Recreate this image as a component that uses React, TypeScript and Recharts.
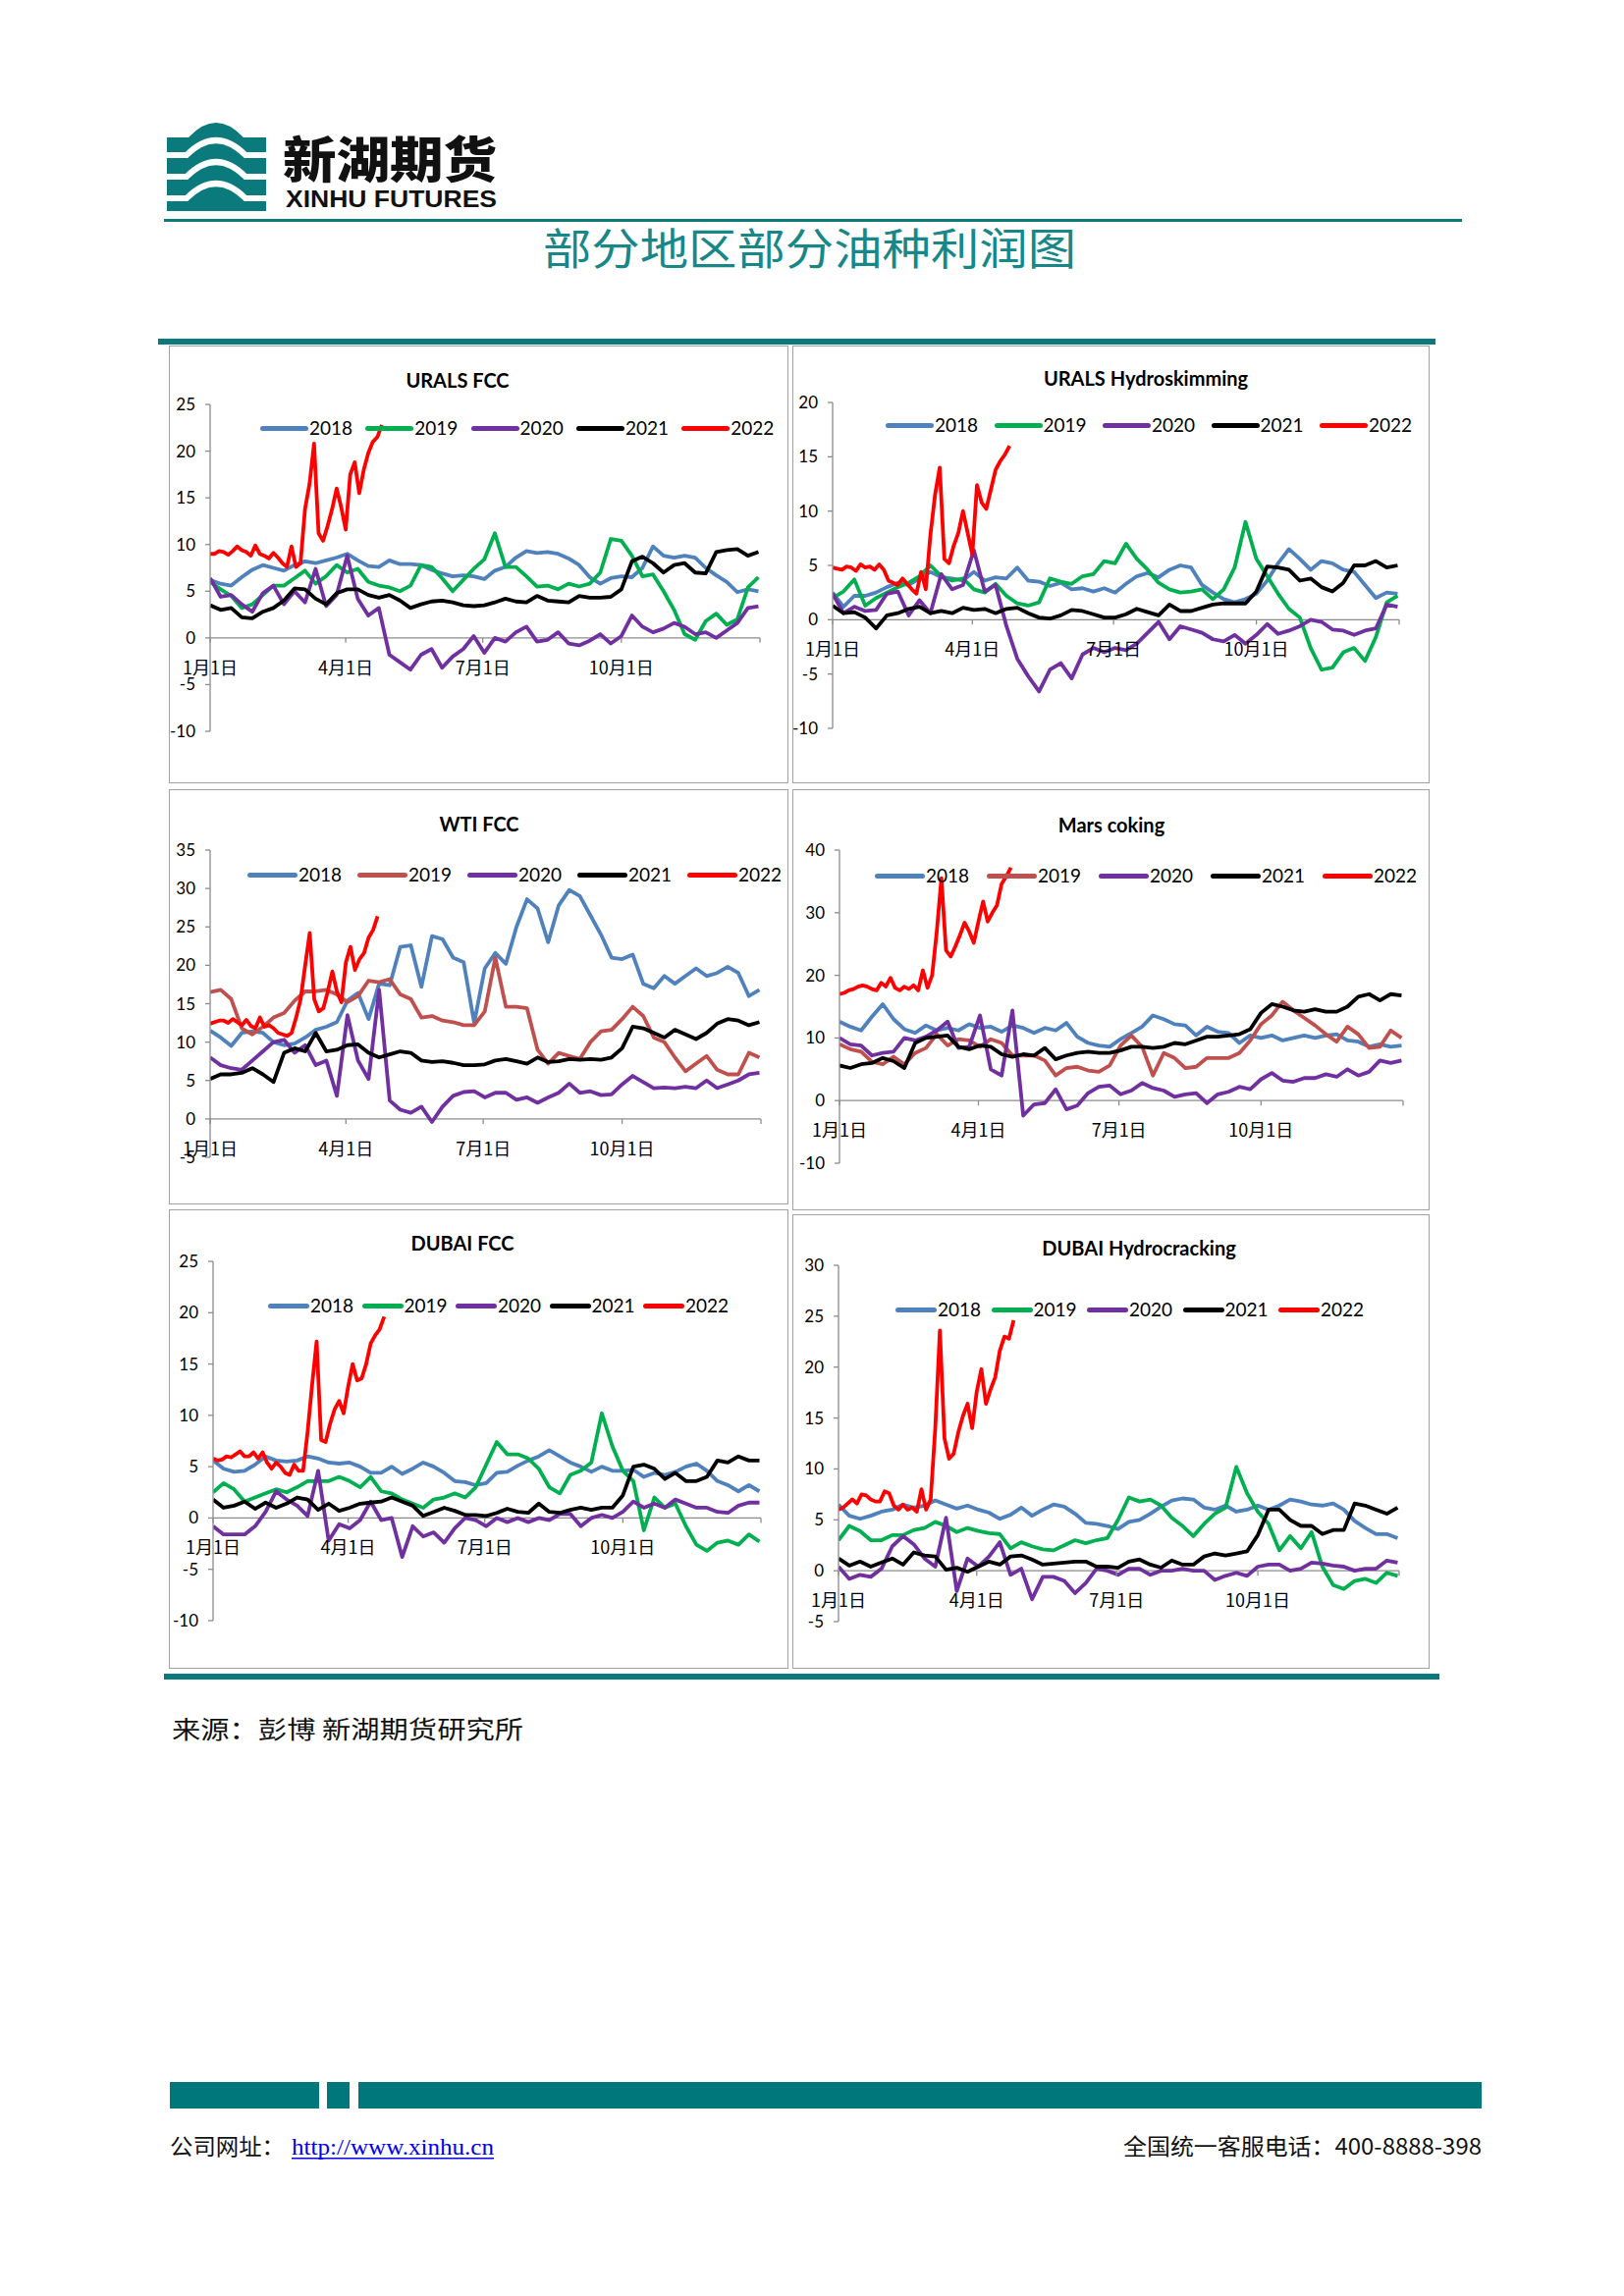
import { LineChart, Line, XAxis, YAxis, ReferenceLine } from 'recharts';

const TEAL = '#0b7a7c';
const AXIS = '#8c8c8c';
const NUM_FONT = "'Liberation Sans Narrow', 'Arial Narrow', Lato, sans-serif";
const TITLE_FONT = "Lato, 'Noto Sans', sans-serif";
const CJK = "'Noto Sans CJK SC', sans-serif";

const YEARS = ['2018', '2019', '2020', '2021', '2022'];
const COLORS_GREEN = ['#4f81bd', '#00b050', '#7030a0', '#000000', '#ff0000'];
const COLORS_BROWN = ['#4f81bd', '#c0504d', '#7030a0', '#000000', '#ff0000'];

// x axis: day of year
const DATE_TICKS = [0, 90, 181, 273, 365];
const DATE_LABELS = ['1月1日', '4月1日', '7月1日', '10月1日', ''];
const WEEK = 7; // full-year series are read weekly
const STEP_2022 = 3; // 2022 is read every 3 days

const TICKS_25 = [-10, -5, 0, 5, 10, 15, 20, 25];
const TICKS_20 = [-10, -5, 0, 5, 10, 15, 20];
const TICKS_35 = [-5, 0, 5, 10, 15, 20, 25, 30, 35];
const TICKS_40 = [-10, 0, 10, 20, 30, 40];
const TICKS_30 = [-5, 0, 5, 10, 15, 20, 25, 30];

// URALS FCC
const uralsFcc2018 = [6.2, 5.8, 5.6, 6.5, 7.3, 7.8, 7.5, 7.2, 7.8, 8.2, 8.0, 8.3, 8.6, 9.0, 8.3, 7.7, 7.6, 8.3, 7.9, 7.9, 7.8, 7.3, 6.9, 6.6, 6.7, 6.6, 6.3, 7.2, 7.6, 8.6, 9.3, 9.1, 9.2, 9.0, 8.5, 7.8, 6.5, 5.8, 6.4, 6.6, 6.5, 7.5, 9.8, 8.8, 8.6, 8.8, 8.6, 7.5, 6.7, 6.0, 4.9, 5.2, 5.0];
const uralsFcc2019 = [6.0, 5.2, 4.5, 3.2, 3.6, 4.6, 5.6, 5.6, 6.4, 7.2, 5.8, 6.6, 7.8, 7.0, 7.4, 6.0, 5.6, 5.4, 5.0, 5.6, 7.8, 7.6, 6.4, 5.0, 6.2, 7.4, 8.4, 11.2, 7.6, 7.6, 6.6, 5.5, 5.6, 5.2, 5.8, 5.5, 5.8, 7.0, 10.6, 10.4, 8.8, 6.6, 6.8, 5.0, 3.0, 0.4, -0.2, 1.8, 2.6, 1.4, 2.0, 5.4, 6.5];
const uralsFcc2020 = [6.4, 4.4, 4.6, 3.6, 2.8, 4.8, 5.6, 3.6, 5.0, 3.8, 7.4, 3.4, 4.6, 8.8, 4.2, 2.4, 3.2, -1.8, -2.6, -3.4, -1.8, -1.2, -3.2, -2.0, -1.2, 0.2, -1.6, 0.0, -0.4, 0.6, 1.2, -0.4, -0.2, 0.6, -0.6, -0.8, -0.3, 0.4, -0.6, 0.2, 2.4, 1.2, 0.6, 1.0, 1.6, 1.2, 0.4, 0.6, 0.0, 0.8, 1.6, 3.2, 3.4];
const uralsFcc2021 = [3.5, 3.0, 3.2, 2.2, 2.1, 2.8, 3.2, 4.0, 5.3, 5.2, 4.2, 3.6, 4.8, 5.2, 5.2, 4.6, 4.3, 4.6, 4.0, 3.2, 3.6, 3.9, 4.0, 3.8, 3.5, 3.4, 3.5, 3.8, 4.2, 3.9, 3.8, 4.5, 4.0, 3.9, 3.8, 4.5, 4.3, 4.3, 4.4, 5.2, 8.2, 8.7, 8.0, 7.0, 7.8, 8.0, 7.0, 6.9, 9.2, 9.4, 9.5, 8.8, 9.2];
const uralsFcc2022 = [9.0, 9.0, 9.3, 9.2, 8.9, 9.3, 9.8, 9.4, 9.2, 8.8, 9.9, 9.0, 8.8, 8.5, 9.1, 8.6, 8.0, 7.6, 9.8, 7.6, 8.0, 13.8, 16.5, 20.8, 11.2, 10.4, 12.0, 13.8, 16.0, 14.0, 11.6, 17.5, 18.8, 15.5, 18.0, 19.8, 21.0, 21.5, 22.8];

// URALS Hydroskimming
const uralsHs2018 = [2.5, 1.2, 2.2, 2.2, 2.5, 3.0, 3.4, 3.2, 3.8, 4.4, 3.9, 3.8, 3.6, 4.4, 3.6, 3.9, 3.8, 4.8, 3.6, 3.5, 3.1, 3.4, 2.8, 2.9, 2.6, 2.9, 2.5, 3.3, 4.0, 4.3, 3.9, 4.6, 5.0, 4.8, 3.2, 2.5, 1.9, 1.6, 1.9, 2.4, 3.6, 5.2, 6.5, 5.6, 4.6, 5.4, 5.2, 4.6, 4.4, 3.2, 2.0, 2.5, 2.4];
const uralsHs2019 = [2.0, 2.6, 3.7, 1.3, 2.0, 2.5, 3.0, 3.4, 4.0, 5.0, 4.0, 3.6, 3.8, 2.8, 2.5, 3.3, 2.2, 1.5, 1.3, 1.6, 3.8, 3.5, 3.3, 4.0, 4.2, 5.4, 5.2, 7.0, 5.6, 4.6, 3.4, 2.8, 2.5, 2.6, 2.8, 1.9, 2.8, 4.8, 9.0, 5.6, 4.0, 2.4, 1.0, 0.2, -2.6, -4.6, -4.4, -3.0, -2.6, -3.8, -1.6, 1.6, 2.2];
const uralsHs2020 = [2.4, 0.6, 1.2, 0.8, 0.9, 2.4, 2.6, 0.4, 1.8, 0.6, 4.2, 2.8, 3.2, 6.4, 2.6, 3.2, -0.6, -3.6, -5.2, -6.6, -4.6, -4.0, -5.4, -3.2, -2.6, -3.0, -2.6, -2.8, -2.2, -1.2, -0.2, -1.8, -0.6, -0.9, -1.2, -1.8, -2.0, -1.4, -2.2, -1.4, -0.4, -1.3, -1.0, -0.6, 0.0, -0.2, -0.9, -1.0, -1.4, -1.0, -0.8, 1.4, 1.2];
const uralsHs2021 = [1.3, 0.6, 0.7, 0.2, -0.8, 0.4, 0.6, 1.0, 1.2, 0.6, 0.8, 0.6, 1.1, 0.9, 1.0, 0.6, 1.0, 1.1, 0.6, 0.2, 0.1, 0.4, 0.9, 0.8, 0.5, 0.2, 0.2, 0.5, 1.0, 0.7, 0.4, 1.4, 0.8, 0.8, 1.1, 1.4, 1.5, 1.5, 1.5, 2.6, 4.9, 4.8, 4.6, 3.6, 3.8, 3.0, 2.6, 3.4, 5.0, 5.0, 5.4, 4.8, 5.0];
const uralsHs2022 = [4.8, 4.7, 4.6, 4.9, 4.8, 4.5, 5.1, 4.8, 4.9, 4.6, 5.1, 4.6, 3.6, 3.4, 3.2, 3.8, 3.3, 2.8, 2.4, 4.4, 2.8, 7.8, 11.5, 14.0, 5.6, 5.2, 6.8, 8.0, 10.0, 8.0, 6.0, 12.4, 10.8, 10.2, 12.0, 13.8, 14.6, 15.2, 16.0];

// WTI FCC
const wtiFcc2018 = [11.5, 10.6, 9.5, 11.2, 11.4, 11.2, 10.0, 9.6, 9.8, 10.6, 11.6, 12.0, 12.6, 15.4, 16.4, 13.0, 17.6, 17.4, 22.4, 22.6, 17.2, 23.8, 23.4, 21.0, 20.4, 12.5, 19.6, 21.6, 20.2, 25.0, 28.6, 27.4, 23.0, 27.8, 29.8, 29.0, 26.5, 24.0, 21.0, 20.8, 21.4, 17.6, 17.0, 18.6, 17.6, 18.6, 19.6, 18.6, 19.0, 19.8, 19.0, 16.0, 16.8];
const wtiFcc2019 = [16.5, 16.8, 15.6, 11.8, 11.0, 12.0, 13.2, 13.8, 15.4, 16.6, 16.6, 16.8, 16.2, 15.2, 16.0, 18.0, 17.8, 18.2, 16.2, 15.6, 13.2, 13.4, 12.8, 12.6, 12.2, 12.2, 14.0, 21.0, 14.6, 14.6, 14.4, 9.0, 7.2, 8.6, 8.2, 7.8, 10.0, 11.4, 11.6, 13.0, 14.6, 13.4, 10.6, 10.0, 8.0, 6.2, 7.2, 8.2, 6.4, 5.8, 5.8, 8.6, 8.0];
const wtiFcc2020 = [8.0, 7.0, 6.6, 6.4, 7.6, 8.8, 10.0, 10.3, 8.6, 9.6, 7.0, 7.6, 3.0, 13.5, 7.6, 5.2, 16.8, 2.4, 1.2, 0.8, 1.6, -0.4, 1.6, 3.0, 3.5, 3.6, 2.8, 3.4, 3.4, 2.5, 2.8, 2.1, 2.8, 3.4, 4.6, 3.4, 3.6, 3.1, 3.2, 4.5, 5.6, 4.8, 4.0, 4.1, 4.0, 4.2, 4.0, 5.0, 4.0, 4.5, 5.0, 5.8, 6.0];
const wtiFcc2021 = [5.2, 5.8, 5.8, 6.0, 6.6, 5.8, 4.8, 8.6, 9.2, 8.8, 11.2, 8.8, 9.0, 9.6, 9.7, 8.6, 8.0, 8.4, 8.8, 8.6, 7.6, 7.4, 7.5, 7.3, 7.0, 7.0, 7.1, 7.6, 7.8, 7.5, 7.2, 8.0, 7.4, 7.5, 7.8, 7.7, 7.8, 7.7, 8.0, 9.2, 12.0, 11.8, 11.2, 10.6, 11.6, 11.0, 10.4, 11.2, 12.4, 13.0, 12.8, 12.2, 12.6];
const wtiFcc2022 = [12.4, 12.6, 12.8, 12.8, 12.5, 13.0, 12.6, 12.2, 12.9, 12.1, 11.8, 13.2, 12.0, 12.2, 11.8, 11.2, 11.0, 10.8, 11.2, 13.2, 15.6, 20.0, 24.2, 15.6, 14.0, 14.4, 16.6, 19.2, 16.6, 15.2, 20.4, 22.4, 19.4, 20.8, 21.6, 23.6, 24.6, 26.4];

// Mars coking
const marsCoking2018 = [12.6, 11.8, 11.2, 13.4, 15.4, 13.0, 11.4, 10.8, 12.0, 11.2, 11.6, 11.2, 12.2, 11.6, 11.8, 11.0, 12.0, 11.6, 10.8, 11.6, 11.2, 12.4, 10.2, 9.2, 8.8, 8.6, 9.8, 10.8, 11.8, 13.6, 13.0, 12.2, 12.0, 10.4, 11.8, 11.0, 10.8, 9.2, 10.4, 10.0, 10.4, 9.6, 10.0, 10.4, 10.0, 10.4, 10.6, 9.6, 9.4, 8.6, 9.0, 8.6, 8.8];
const marsCoking2019 = [9.0, 8.2, 7.8, 6.2, 5.8, 7.0, 5.8, 7.6, 8.4, 10.6, 8.8, 9.8, 9.6, 8.6, 9.8, 9.2, 7.2, 7.2, 7.2, 6.4, 4.0, 5.2, 5.4, 4.8, 4.6, 5.6, 8.8, 10.4, 8.6, 4.0, 7.6, 6.8, 5.2, 5.4, 6.8, 6.8, 6.8, 7.6, 9.6, 12.2, 13.6, 15.8, 14.4, 13.2, 12.0, 10.6, 9.4, 11.8, 10.6, 8.4, 8.6, 11.2, 10.0];
const marsCoking2020 = [10.0, 9.0, 8.8, 7.2, 7.6, 7.8, 10.0, 9.6, 10.2, 11.2, 12.6, 8.4, 8.6, 13.6, 5.0, 4.0, 14.4, -2.4, -0.6, -0.4, 1.8, -1.4, -0.8, 1.2, 2.2, 2.4, 1.0, 1.6, 2.8, 2.0, 1.6, 0.6, 1.0, 1.2, -0.4, 1.0, 1.4, 2.2, 1.8, 3.4, 4.4, 3.2, 3.0, 3.6, 3.6, 4.2, 3.8, 5.0, 4.0, 4.6, 6.4, 6.0, 6.4];
const marsCoking2021 = [5.6, 5.2, 5.8, 6.0, 6.8, 6.3, 5.2, 9.2, 10.0, 10.2, 10.4, 8.6, 8.2, 8.8, 8.6, 7.4, 7.0, 7.4, 7.2, 8.4, 6.6, 7.2, 7.6, 7.8, 7.6, 7.6, 8.0, 8.6, 8.6, 8.4, 8.6, 9.2, 9.0, 9.6, 10.2, 10.2, 10.4, 10.6, 11.4, 14.0, 15.4, 15.0, 14.4, 14.2, 14.6, 14.2, 14.2, 15.0, 16.6, 17.0, 16.0, 17.0, 16.8];
const marsCoking2022 = [17.0, 17.2, 17.6, 17.8, 18.2, 18.4, 18.2, 17.8, 17.6, 18.8, 18.2, 19.6, 18.0, 17.6, 18.2, 17.8, 18.4, 17.6, 20.8, 18.0, 20.0, 27.0, 35.5, 24.0, 23.0, 24.6, 26.4, 28.4, 27.0, 25.2, 28.6, 31.8, 28.6, 30.0, 31.2, 34.6, 35.8, 37.2];

// DUBAI FCC
const dubaiFcc2018 = [5.6, 4.8, 4.5, 4.6, 5.2, 6.0, 5.6, 5.5, 5.6, 6.0, 5.8, 5.4, 5.3, 5.4, 5.0, 4.4, 4.4, 5.0, 4.3, 4.8, 5.4, 5.0, 4.4, 3.6, 3.5, 3.2, 3.4, 4.4, 4.5, 5.1, 5.6, 6.0, 6.6, 6.0, 5.4, 5.0, 4.5, 5.0, 4.6, 4.6, 4.7, 4.0, 4.4, 4.2, 4.5, 5.0, 5.3, 4.6, 3.6, 3.2, 2.6, 3.2, 2.6];
const dubaiFcc2019 = [2.5, 3.4, 2.8, 1.6, 2.0, 2.4, 2.8, 2.5, 3.0, 3.6, 3.6, 3.6, 4.0, 3.6, 3.0, 4.0, 2.6, 2.4, 1.8, 1.4, 1.0, 1.8, 2.0, 2.4, 2.0, 3.0, 5.2, 7.4, 6.2, 6.2, 5.8, 4.8, 3.0, 2.4, 4.2, 4.6, 5.4, 10.2, 7.0, 4.6, 3.6, -1.2, 2.0, 1.0, 1.4, -0.8, -2.6, -3.2, -2.4, -2.2, -2.6, -1.6, -2.3];
const dubaiFcc2020 = [-0.8, -1.6, -1.6, -1.6, -0.8, 0.6, 2.6, 1.8, 1.2, 0.2, 4.6, -2.2, -0.6, -1.0, -0.2, 1.6, -0.2, 0.0, -3.8, -0.8, -1.8, -1.4, -2.4, -1.0, 0.0, -0.2, -0.8, 0.0, -0.4, 0.0, -0.4, 0.0, -0.2, 0.4, 0.4, -0.8, 0.0, 0.3, 0.0, 0.6, 1.6, 1.0, 1.4, 1.0, 1.8, 1.4, 1.0, 1.0, 0.6, 0.5, 1.2, 1.5, 1.5];
const dubaiFcc2021 = [1.8, 1.0, 1.2, 1.6, 0.9, 1.5, 1.0, 1.4, 2.0, 1.8, 0.8, 1.4, 0.7, 1.0, 1.4, 1.5, 1.6, 2.0, 1.6, 1.2, 0.2, 0.6, 1.0, 0.7, 0.3, 0.3, 0.2, 0.5, 0.9, 0.6, 0.5, 1.4, 0.6, 0.5, 0.8, 1.0, 0.8, 1.0, 1.0, 2.2, 5.0, 5.2, 4.8, 3.8, 4.4, 3.6, 3.6, 4.0, 5.6, 5.4, 6.0, 5.6, 5.6];
const dubaiFcc2022 = [5.8, 5.6, 5.7, 6.0, 5.9, 6.2, 6.5, 6.0, 6.0, 6.4, 5.8, 6.4, 5.4, 4.8, 5.4, 5.0, 4.4, 4.2, 5.2, 4.6, 4.6, 8.4, 13.0, 17.2, 7.6, 7.4, 9.2, 10.6, 11.4, 10.2, 12.8, 15.0, 13.4, 13.6, 15.0, 17.0, 17.8, 18.4, 19.6];

// DUBAI Hydrocracking
const dubaiHc2018 = [6.5, 5.4, 5.1, 5.4, 5.8, 6.0, 6.5, 6.2, 6.4, 6.9, 6.5, 6.1, 6.4, 6.0, 5.7, 5.1, 5.5, 6.2, 5.4, 6.0, 6.5, 6.3, 5.6, 4.7, 4.6, 4.4, 4.1, 4.8, 5.0, 5.6, 6.3, 6.9, 7.1, 7.0, 6.2, 6.0, 6.4, 5.8, 6.0, 6.4, 6.0, 6.4, 7.0, 6.8, 6.5, 6.4, 6.6, 6.0, 4.9, 4.2, 3.6, 3.6, 3.2];
const dubaiHc2019 = [3.0, 4.4, 3.9, 3.0, 3.0, 3.5, 3.5, 4.0, 4.2, 4.8, 4.4, 3.8, 4.2, 3.9, 3.7, 3.6, 2.2, 2.8, 2.4, 2.1, 2.0, 2.5, 3.0, 2.7, 3.0, 3.2, 5.0, 7.2, 6.8, 7.0, 6.4, 5.2, 4.4, 3.4, 4.6, 5.6, 6.2, 10.2, 7.6, 5.8, 4.6, 2.0, 3.4, 2.2, 3.8, 0.4, -1.4, -1.8, -1.0, -0.8, -1.2, -0.2, -0.5];
const dubaiHc2020 = [0.4, -0.8, -0.4, -0.6, 0.2, 2.4, 3.4, 2.6, 1.2, 0.4, 5.2, -2.0, 1.2, 0.4, 1.4, 2.8, -0.4, 0.2, -2.8, -0.6, -0.6, -1.0, -2.2, -1.2, 0.2, 0.0, -0.4, 0.2, 0.2, -0.4, 0.0, 0.0, 0.2, 0.0, 0.0, -0.9, -0.5, -0.2, -0.5, 0.4, 0.6, 0.6, 0.0, 0.2, 0.8, 0.7, 0.5, 0.4, 0.0, 0.2, 0.2, 1.0, 0.8];
const dubaiHc2021 = [1.2, 0.5, 0.9, 0.4, 0.8, 1.2, 0.6, 1.8, 1.5, 1.4, 0.1, 0.3, -0.1, 0.4, 0.9, 0.6, 1.4, 1.5, 1.1, 0.6, 0.7, 0.8, 0.9, 0.9, 0.4, 0.4, 0.3, 0.9, 1.1, 0.6, 0.3, 1.0, 0.6, 0.6, 1.4, 1.7, 1.5, 1.7, 1.9, 3.5, 6.0, 6.0, 5.0, 4.4, 4.4, 3.6, 4.0, 4.0, 6.6, 6.4, 6.0, 5.6, 6.2];
const dubaiHc2022 = [6.0, 6.2, 6.6, 7.0, 6.6, 7.5, 7.4, 7.0, 6.8, 6.8, 7.8, 7.6, 6.4, 6.0, 6.5, 6.0, 6.2, 5.8, 8.0, 6.0, 7.0, 14.0, 23.6, 13.0, 11.0, 11.5, 13.6, 15.2, 16.4, 14.0, 17.6, 19.8, 16.4, 17.8, 19.0, 21.6, 23.0, 22.8, 24.6];

// page layout (pixels on the 1654x2339 page)
const PANELS = [
  {
    title: 'URALS FCC', box: [172, 352, 631, 446], plot: [214, 412, 774, 745], ticks: TICKS_25,
    colors: COLORS_GREEN, series: [uralsFcc2018, uralsFcc2019, uralsFcc2020, uralsFcc2021, uralsFcc2022],
    titleAt: [466, 387], legend: { x: 265, y: 436, step: 107.3, len: 49 },
  },
  {
    title: 'URALS Hydroskimming', box: [807, 352, 649, 446], plot: [848, 410, 1425, 742], ticks: TICKS_20,
    colors: COLORS_GREEN, series: [uralsHs2018, uralsHs2019, uralsHs2020, uralsHs2021, uralsHs2022],
    titleAt: [1167, 385], legend: { x: 902, y: 433, step: 110.5, len: 49 },
  },
  {
    title: 'WTI FCC', box: [172, 804, 631, 423], plot: [214, 866, 775, 1179], ticks: TICKS_35,
    colors: COLORS_BROWN, series: [wtiFcc2018, wtiFcc2019, wtiFcc2020, wtiFcc2021, wtiFcc2022],
    titleAt: [488, 839], legend: { x: 252, y: 891, step: 112, len: 51 },
  },
  {
    title: 'Mars coking', box: [807, 804, 649, 429], plot: [855, 866, 1429, 1185], ticks: TICKS_40,
    colors: COLORS_BROWN, series: [marsCoking2018, marsCoking2019, marsCoking2020, marsCoking2021, marsCoking2022],
    titleAt: [1132, 840], legend: { x: 891, y: 892, step: 114, len: 51 },
  },
  {
    title: 'DUBAI FCC', box: [172, 1232, 631, 468], plot: [217, 1285, 775, 1651], ticks: TICKS_25,
    colors: COLORS_GREEN, series: [dubaiFcc2018, dubaiFcc2019, dubaiFcc2020, dubaiFcc2021, dubaiFcc2022],
    titleAt: [471, 1266], legend: { x: 273, y: 1330, step: 95.5, len: 42 },
  },
  {
    title: 'DUBAI Hydrocracking', box: [807, 1237, 649, 463], plot: [854, 1289, 1425, 1652], ticks: TICKS_30,
    colors: COLORS_GREEN, series: [dubaiHc2018, dubaiHc2019, dubaiHc2020, dubaiHc2021, dubaiHc2022],
    titleAt: [1160, 1271], legend: { x: 912, y: 1334, step: 97.5, len: 42 },
  },
];

const toPoints = (values: number[], step: number) => values.map((v, i) => ({ d: i * step, v }));

function DateTick({ x, payload, zeroY }: any) {
  const label = DATE_LABELS[DATE_TICKS.indexOf(payload.value)] ?? '';
  return (
    <g>
      <line x1={x} x2={x} y1={zeroY} y2={zeroY + 5} stroke={AXIS} strokeWidth={1.3} />
      {label ? (
        <text x={x} y={zeroY + 29} textAnchor="middle" dominantBaseline="central" fontSize={18} fontFamily={CJK} fill="#000">
          {label}
        </text>
      ) : null}
    </g>
  );
}

function Panel({ p }: { p: (typeof PANELS)[number] }) {
  const [bx, by, bw, bh] = p.box;
  const [ax, ayTop, axEnd, ayBottom] = p.plot;
  const yMin = p.ticks[0];
  const yMax = p.ticks[p.ticks.length - 1];
  const plotTop = ayTop - by;
  const plotH = ayBottom - ayTop;
  const zeroY = plotTop + (plotH * yMax) / (yMax - yMin);

  return (
    <div style={{ position: 'absolute', left: bx, top: by, width: bw, height: bh }}>
      <LineChart width={bw} height={bh} margin={{ top: plotTop, right: bx + bw - axEnd, bottom: 0, left: 0 }}>
        <XAxis
          type="number"
          dataKey="d"
          domain={[0, 365]}
          ticks={DATE_TICKS}
          interval={0}
          allowDataOverflow
          axisLine={false}
          tickLine={false}
          height={by + bh - ayBottom}
          tick={(t: any) => <DateTick {...t} zeroY={zeroY} />}
        />
        <YAxis
          type="number"
          domain={[yMin, yMax]}
          ticks={p.ticks}
          interval={0}
          allowDataOverflow
          width={ax - bx}
          tickSize={5}
          tickMargin={10}
          axisLine={{ stroke: AXIS, strokeWidth: 1.3 }}
          tickLine={{ stroke: AXIS, strokeWidth: 1.3 }}
          tick={{ fontSize: 17, fill: '#000', fontFamily: NUM_FONT }}
        />
        <ReferenceLine y={0} stroke={AXIS} strokeWidth={1.3} />
        {p.series.map((s, i) => (
          <Line
            key={YEARS[i]}
            data={toPoints(s, i === 4 ? STEP_2022 : WEEK)}
            dataKey="v"
            name={YEARS[i]}
            type="linear"
            stroke={p.colors[i]}
            strokeWidth={3.8}
            strokeLinejoin="round"
            dot={false}
            activeDot={false}
            isAnimationActive={false}
          />
        ))}
      </LineChart>

      <div
        style={{
          position: 'absolute', left: p.titleAt[0] - bx - 200, top: p.titleAt[1] - by - 14, width: 400,
          textAlign: 'center', fontFamily: TITLE_FONT, fontWeight: 700, fontSize: 20, lineHeight: '28px', color: '#000',
        }}
      >
        {p.title}
      </div>

      {YEARS.map((y, i) => {
        const lx = p.legend.x + i * p.legend.step - bx;
        const ly = p.legend.y - by;
        return (
          <div key={y}>
            <div style={{ position: 'absolute', left: lx, top: ly - 2.5, width: p.legend.len, height: 5, borderRadius: 2.5, background: p.colors[i] }} />
            <div style={{ position: 'absolute', left: lx + p.legend.len + 1, top: ly - 12, fontSize: 19, lineHeight: '24px', fontFamily: NUM_FONT, color: '#000' }}>
              {y}
            </div>
          </div>
        );
      })}

      <div style={{ position: 'absolute', inset: 0, border: '1.5px solid #a2a2a2', boxSizing: 'border-box', pointerEvents: 'none' }} />
    </div>
  );
}

function PageDecor() {
  const arches = [34, 56, 78];
  return (
    <svg width={1654} height={2339} style={{ position: 'absolute', left: 0, top: 0 }}>
      {/* logo */}
      <g transform="translate(170,118)">
        <path d="M0,97 V22 H22 Q50,-8 78,22 H101 V97 Z" fill={TEAL} />
        {arches.map((yb) => (
          <path key={yb} d={`M0,${yb + 6} H20 Q50,${yb - 24} 80,${yb + 6} H101`} stroke="#fff" strokeWidth={6} fill="none" />
        ))}
      </g>
      <text x={288} y={181} fontSize={50} fontWeight={900} fontFamily={CJK} fill="#111" textLength={218} lengthAdjust="spacingAndGlyphs">
        新湖期货
      </text>
      <text x={291} y={211} fontSize={24} fontWeight={700} fontFamily="'Liberation Sans', sans-serif" fill="#111" textLength={215} lengthAdjust="spacingAndGlyphs">
        XINHU FUTURES
      </text>
      <rect x={167} y={223} width={1322} height={3} fill={TEAL} />

      {/* page title */}
      <text x={553} y={270} fontSize={44} fontFamily={CJK} fill="#178787" textLength={543} lengthAdjust="spacingAndGlyphs">
        部分地区部分油种利润图
      </text>

      {/* frame lines around the chart block */}
      <rect x={161} y={345} width={1301} height={6} fill={TEAL} />
      <rect x={167} y={1705} width={1299} height={6} fill={TEAL} />

      <text x={175} y={1771} fontSize={25} fontFamily={CJK} fill="#111" textLength={358} lengthAdjust="spacingAndGlyphs">
        来源：彭博 新湖期货研究所
      </text>

      {/* footer */}
      <rect x={173} y={2121} width={152} height={27} fill="#00777a" />
      <rect x={333} y={2121} width={23} height={27} fill="#00777a" />
      <rect x={365} y={2121} width={1144} height={27} fill="#00777a" />
      <text x={173} y={2195} fontSize={23} fontFamily={CJK} fill="#111" textLength={117} lengthAdjust="spacingAndGlyphs">
        公司网址：
      </text>
      <text x={297} y={2195} fontSize={24} fontFamily="'Liberation Serif', serif" fill="#0000ee" textLength={206} lengthAdjust="spacingAndGlyphs">
        http://www.xinhu.cn
      </text>
      <rect x={297} y={2198} width={206} height={1.5} fill="#0000ee" />
      <text x={1144} y={2195} fontSize={23} fontFamily={CJK} fill="#111" textLength={365} lengthAdjust="spacingAndGlyphs">
        全国统一客服电话：400-8888-398
      </text>
    </svg>
  );
}

export default function App() {
  return (
    <div style={{ position: 'absolute', left: 0, top: 0, width: 1654, height: 2339, background: '#fff', overflow: 'hidden' }}>
      <PageDecor />
      {PANELS.map((p) => (
        <Panel key={p.title} p={p} />
      ))}
    </div>
  );
}
